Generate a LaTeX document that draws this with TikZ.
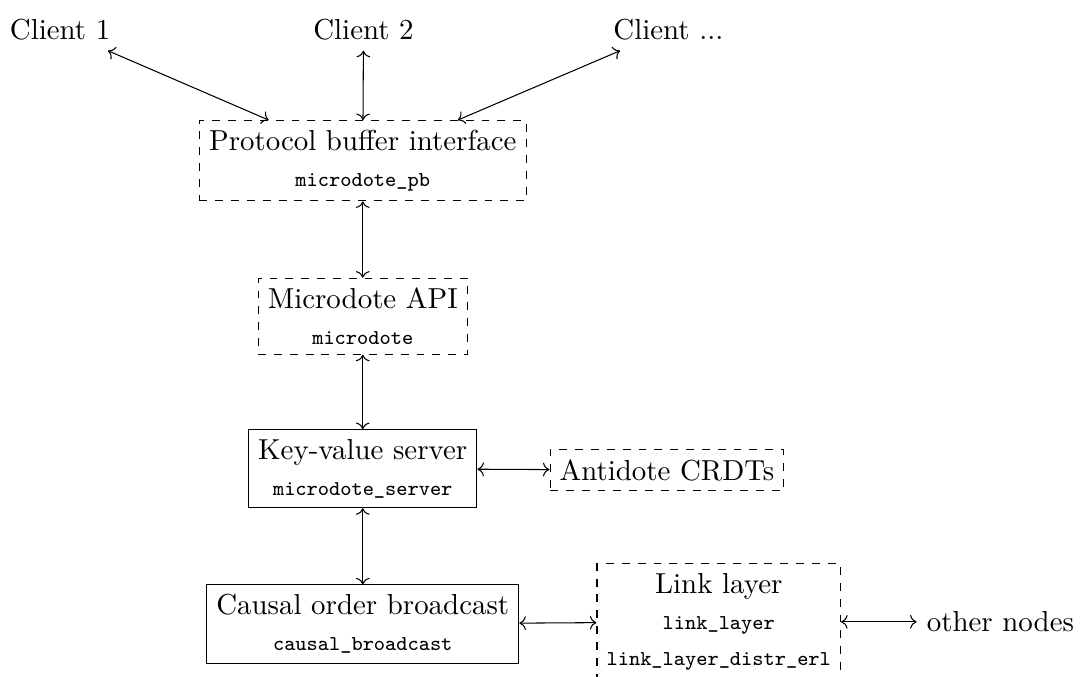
\documentclass[tikz,border=0pt,11pt]{standalone}
\usepackage{tikz}
\usetikzlibrary{arrows.meta,positioning}

\newcommand{\modname}[1]{{\scriptsize\texttt{#1}}}

\begin{document}
\begin{tikzpicture}[
  module/.style={draw, dashed, align=center},
  server/.style={draw, align=center},
  client/.style={align=center},
  link/.style={<->}
]
  \useasboundingbox (0,0) rectangle (14.38,-9.01);
  % clients on top
  \node[client] (C1) at (0.80, -0.40) {Client 1};
  \node[client] (C2) at (4.84, -0.40) {Client 2};
  \node[client] (C3) at (8.90, -0.40) {Client ...};
  % the stack of one node
  \node[module] (PB)  at (4.83, -2.14) {Protocol buffer interface\\ \modname{microdote\_pb}};
  \node[module] (API) at (4.83, -4.21) {Microdote API\\ \modname{microdote}};
  \node[server] (KV)  at (4.83, -6.24) {Key-value server\\ \modname{microdote\_server}};
  \node[module] (CRDT) at (8.88, -6.26) {Antidote CRDTs};
  \node[server] (CB)  at (4.83, -8.31) {Causal order broadcast\\ \modname{causal\_broadcast}};
  \node[module] (LL)  at (9.57, -8.28) {Link layer\\ \modname{link\_layer}\\ \modname{link\_layer\_distr\_erl}};
  \node (ON) at (13.32, -8.28) {other nodes};
  % connections
  \draw[link] (C1) -- (PB);
  \draw[link] (C2) -- (PB);
  \draw[link] (C3) -- (PB);
  \draw[link] (PB) -- (API);
  \draw[link] (API) -- (KV);
  \draw[link] (KV) -- (CRDT);
  \draw[link] (KV) -- (CB);
  \draw[link] (CB) -- (LL);
  \draw[link] (LL) -- (ON);
\end{tikzpicture}
\end{document}
